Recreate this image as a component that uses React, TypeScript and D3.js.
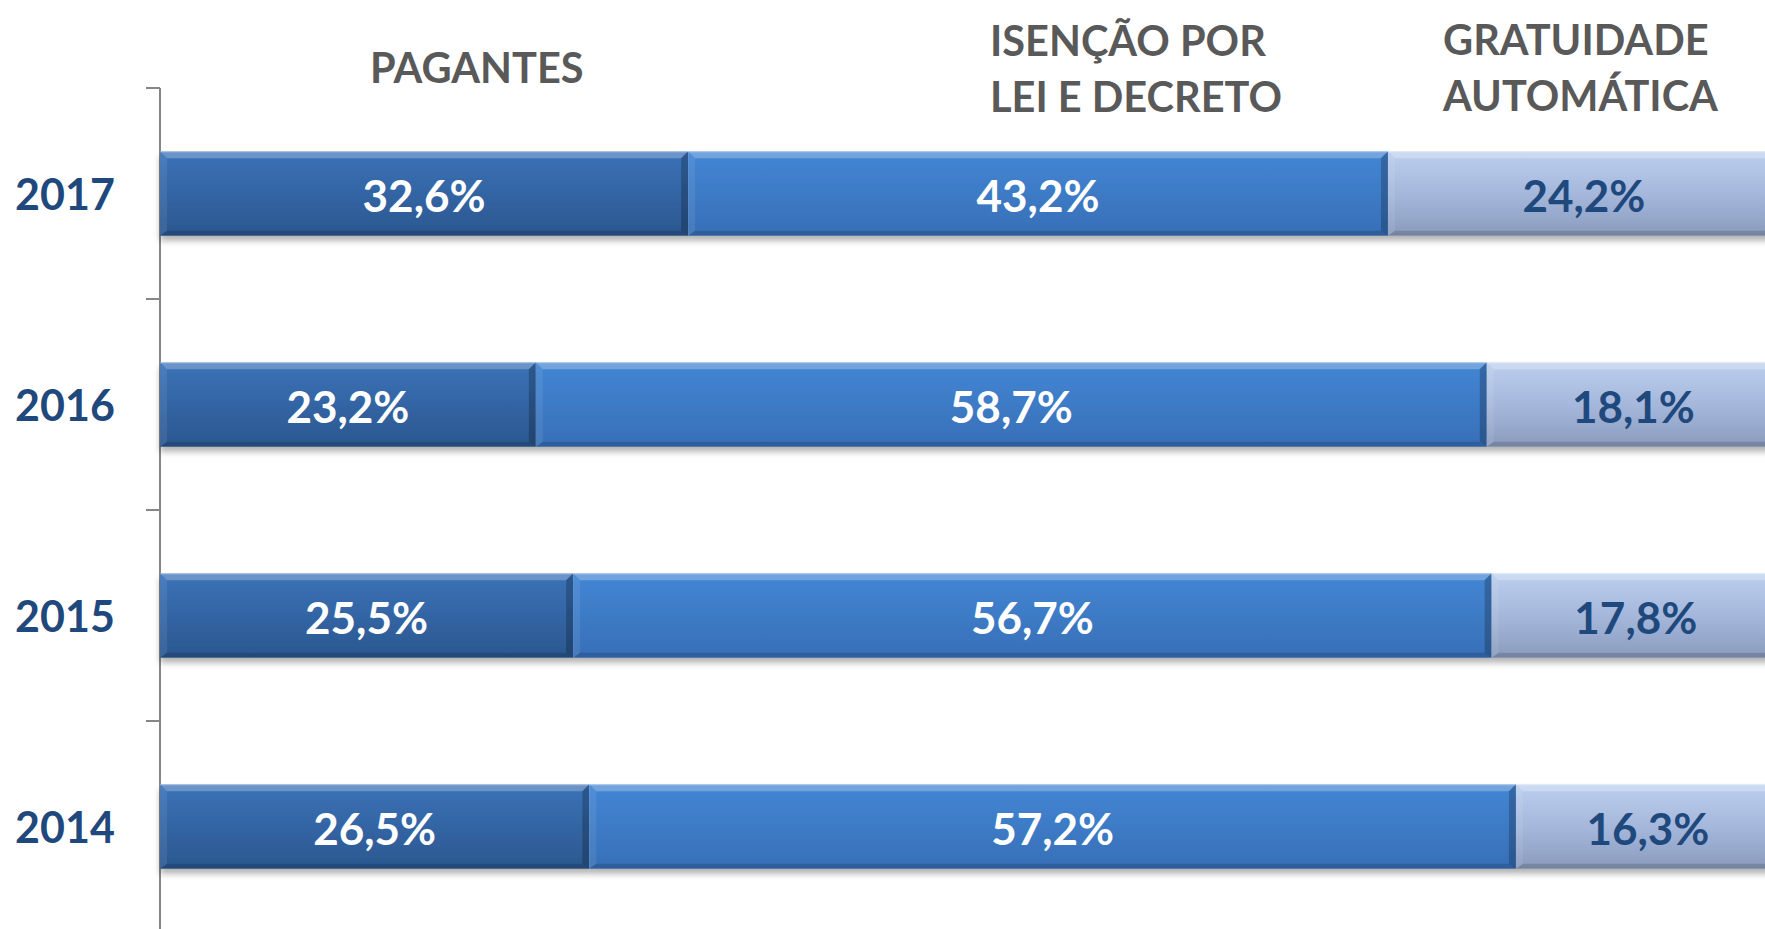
import React from "react";
import * as d3 from "d3";

// years top -> bottom
const years = ["2017", "2016", "2015", "2014"];
const series = ["PAGANTES", "ISENÇÃO POR LEI E DECRETO", "GRATUIDADE AUTOMÁTICA"];
const pagantes = [32.6, 23.2, 25.5, 26.5];
const isencao = [43.2, 58.7, 56.7, 57.2];
const gratuidade = [24.2, 18.1, 17.8, 16.3];

const titles = [
  { lines: ["PAGANTES"], x: 370, y: 83 },
  { lines: ["ISENÇÃO POR", "LEI E DECRETO"], x: 990, y: 56 },
  { lines: ["GRATUIDADE", "AUTOMÁTICA"], x: 1443, y: 55 },
];

const W = 1765;
const H = 929;
const fmt = (v: number) => v.toFixed(1).replace(".", ",") + "%";

const segStyle = [
  { grad: "g1", text: "#ffffff" },
  { grad: "g2", text: "#ffffff" },
  { grad: "g3", text: "#1F497D" },
];

export default function App() {
  const x = d3.scaleLinear().domain([0, 100]).range([160, 1780]);
  const y = d3.scaleBand().domain(years).range([88, 932]);
  const barH = y.bandwidth() * 0.4;
  const bev = 7;

  const rows = years.map((yr, i) => {
    const vals = [pagantes[i], isencao[i], gratuidade[i]];
    let acc = 0;
    const segs = vals.map((v, k) => {
      const s = { k, v, x0: x(acc), x1: x(acc + v) };
      acc += v;
      return s;
    });
    const y0 = (y(yr) as number) + (y.bandwidth() - barH) / 2;
    return { yr, y0, segs };
  });

  return (
    <svg width={W} height={H} style={{ position: "absolute", left: 0, top: 0, background: "#fff" }}>
      <defs>
        <linearGradient id="g1" x1="0" y1="0" x2="0" y2="1">
          <stop offset="0" stopColor="#3b72b8" />
          <stop offset="1" stopColor="#2b578f" />
        </linearGradient>
        <linearGradient id="g2" x1="0" y1="0" x2="0" y2="1">
          <stop offset="0" stopColor="#4386d4" />
          <stop offset="1" stopColor="#376fb7" />
        </linearGradient>
        <linearGradient id="g3" x1="0" y1="0" x2="0" y2="1">
          <stop offset="0" stopColor="#bccfee" />
          <stop offset="0.5" stopColor="#a5b8dc" />
          <stop offset="1" stopColor="#8a9bbd" />
        </linearGradient>
        <filter id="shadow" x="-5%" y="-20%" width="110%" height="160%">
          <feDropShadow dx="0" dy="5" stdDeviation="3" floodColor="#000" floodOpacity="0.3" />
        </filter>
      </defs>

      {/* axis */}
      <line x1={160} x2={160} y1={88} y2={H} stroke="#868686" strokeWidth={2} />
      {years.map((yr) => y(yr) as number).map((t, i) => (
        <line key={i} x1={146} x2={160} y1={t} y2={t} stroke="#868686" strokeWidth={2} />
      ))}

      {rows.map((r) => (
        <g key={r.yr}>
          <g filter="url(#shadow)">
            {r.segs.map((s) => {
              const x0 = s.x0, x1 = s.x1, y0 = r.y0, y1 = r.y0 + barH;
              return (
                <g key={s.k}>
                  <rect x={x0} y={y0} width={x1 - x0} height={barH} fill={`url(#${segStyle[s.k].grad})`} />
                  <polygon points={`${x0},${y0} ${x1},${y0} ${x1 - bev},${y0 + bev} ${x0 + bev},${y0 + bev}`} fill="#ffffff" opacity={0.25} />
                  <polygon points={`${x0},${y1} ${x1},${y1} ${x1 - bev},${y1 - 5} ${x0 + bev},${y1 - 5}`} fill="#000" opacity={0.15} />
                  <polygon points={`${x0},${y0} ${x0 + bev},${y0 + bev} ${x0 + bev},${y1 - 5} ${x0},${y1}`} fill="#ffffff" opacity={0.08} />
                  <polygon points={`${x1},${y0} ${x1 - bev},${y0 + bev} ${x1 - bev},${y1 - 5} ${x1},${y1}`} fill="#000" opacity={0.22} />
                  <line x1={x0} x2={x1} y1={y0 + 0.5} y2={y0 + 0.5} stroke="#ffffff" strokeOpacity={0.35} />
                </g>
              );
            })}
          </g>
          {r.segs.map((s) => (
            <text
              key={s.k}
              x={(s.x0 + Math.min(s.x1, 1780)) / 2}
              y={r.y0 + barH / 2 + 18}
              textAnchor="middle"
              fontFamily="Lato, 'Open Sans', sans-serif"
              fontWeight={700}
              fontSize={44}
              fill={segStyle[s.k].text}
            >
              {fmt(s.v)}
            </text>
          ))}
          <text
            x={65}
            y={r.y0 + barH / 2 + 16}
            textAnchor="middle"
            fontFamily="Lato, 'Open Sans', sans-serif"
            fontWeight={700}
            fontSize={43}
            fill="#1F497D"
          >
            {r.yr}
          </text>
        </g>
      ))}

      {titles.map((t, i) => (
        <text
          key={series[i]}
          x={t.x}
          y={t.y}
          fontFamily="Lato, 'Open Sans', sans-serif"
          fontWeight={700}
          fontSize={41.5}
          fill="#595959"
        >
          {t.lines.map((l, j) => (
            <tspan key={j} x={t.x} dy={j === 0 ? 0 : 56}>
              {l}
            </tspan>
          ))}
        </text>
      ))}
    </svg>
  );
}
